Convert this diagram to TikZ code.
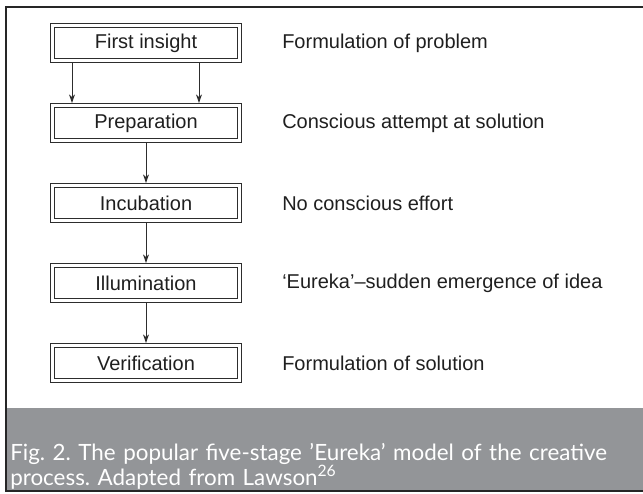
\documentclass[tikz,border=0pt]{standalone}
\usepackage{fontspec}
\setmainfont{Liberation Sans}
\newfontfamily\capfont{Lato}
\usepackage{tikz}
\usetikzlibrary{arrows.meta,positioning}
\definecolor{capgray}{RGB}{147,149,152}
\definecolor{inkgray}{RGB}{45,45,45}
\tikzset{
  stagebox/.style={draw=inkgray, double=white, double distance=2.2pt,
    line width=0.7pt, minimum width=140.4pt, minimum height=26.4pt,
    inner sep=0pt, outer sep=1.8pt,
    font=\fontsize{15}{18}\selectfont, text=black!88},
  stagenote/.style={inner sep=0pt, font=\fontsize{15}{18}\selectfont,
    text=black!88},
  stageflow/.style={-{Stealth[length=6.5pt, width=4.5pt]}, line width=0.7pt,
    inkgray},
  capband/.style={fill=capgray, text=white, inner sep=0pt,
    font=\capfont\frenchspacing\fontsize{16.8}{15.75}\selectfont},
}

\begin{document}
\begin{tikzpicture}[x=0.75pt, y=-0.75pt]
\useasboundingbox (0,0) rectangle (643,493);

%% ── Frame ────────────────────────────────────────────────────────────────
\draw[line width=1.5pt, black!85] (643,7) -- (6,7) -- (6,491) -- (643,491);

%% ── Stages ───────────────────────────────────────────────────────────────
\node[stagebox] (insight) at (146,43) {First insight};
\node[stagebox, below=30pt of insight] (prep)   {Preparation};
\node[stagebox, below=30pt of prep]    (incub)  {Incubation};
\node[stagebox, below=30pt of incub]   (illum)  {Illumination};
\node[stagebox, below=30pt of illum]   (verif)  {Verification};

%% ── Notes ────────────────────────────────────────────────────────────────
\node[stagenote, right=30pt of insight] (insightnote) {Formulation of problem};
\node[stagenote, right=30pt of prep]    (prepnote)    {Conscious attempt at solution};
\node[stagenote, right=30pt of incub]   (incubnote)   {No conscious effort};
\node[stagenote, right=30pt of illum]   (illumnote)   {‘Eureka’–sudden emergence of idea};
\node[stagenote, right=30pt of verif]   (verifnote)   {Formulation of solution};

%% ── Flow ─────────────────────────────────────────────────────────────────
\draw[stageflow] ([xshift=-55.5pt]insight.south) -- ([xshift=-55.5pt]prep.north);
\draw[stageflow] ([xshift=39.75pt]insight.south) -- ([xshift=39.75pt]prep.north);
\draw[stageflow] (prep) -- (incub);
\draw[stageflow] (incub) -- (illum);
\draw[stageflow] (illum) -- (verif);

%% ── Caption ──────────────────────────────────────────────────────────────
\fill[capgray] (7,408) rectangle (643,490);
\node[capband, anchor=west, text width=475pt, align=left] (caption) at (10,466)
  {Fig. 2. The popular five-stage ’Eureka’ model of the creative\\
   process. Adapted from Lawson\textsuperscript{26}};

\end{tikzpicture}
\end{document}
